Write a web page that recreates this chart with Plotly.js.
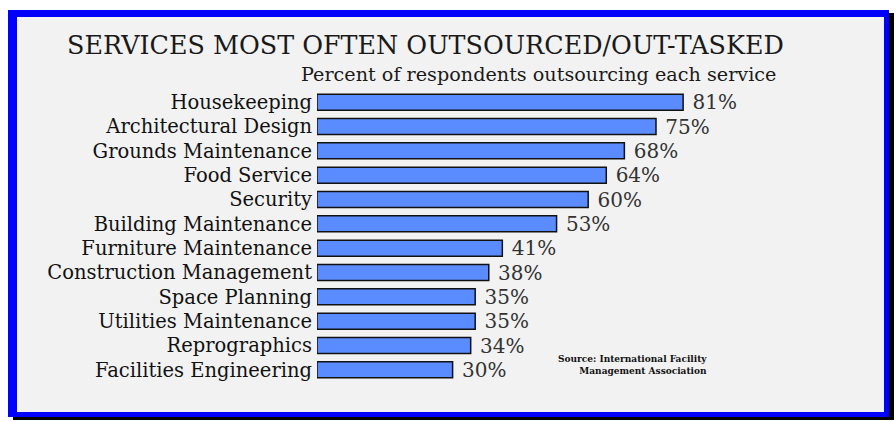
<!DOCTYPE html>
<html>
<head>
<meta charset="utf-8">
<script src="https://cdn.plot.ly/plotly-3.0.1.min.js"></script>
<style>
  html, body { margin: 0; padding: 0; background: #ffffff; width: 896px; height: 421px; overflow: hidden; }
  #frame {
    position: absolute; left: 8px; top: 10px;
    width: 867px; height: 395px;
    background: #f2f2f2;
    border-style: solid; border-color: #0000ff;
    border-width: 7px 5px 5px 9px;
    box-shadow: 5px 3px 0 #000000;
  }
  #chart { position: absolute; left: 0; top: 0; width: 896px; height: 421px; }
</style>
</head>
<body>
<div id="frame"></div>
<div id="chart"></div>
<script>
// ---- data ----
const services = [
  "Housekeeping",
  "Architectural Design",
  "Grounds Maintenance",
  "Food Service",
  "Security",
  "Building Maintenance",
  "Furniture Maintenance",
  "Construction Management",
  "Space Planning",
  "Utilities Maintenance",
  "Reprographics",
  "Facilities Engineering"
];
const percentOutsourcing = [81, 75, 68, 64, 60, 53, 41, 38, 35, 35, 34, 30];
const chartTitle = "SERVICES MOST OFTEN OUTSOURCED/OUT-TASKED";
const chartSubtitle = "Percent of respondents outsourcing each service";
const sourceNote = "Source: International Facility<br>Management Association";

// ---- layout helpers (pixel -> paper) ----
const W = 896, H = 421;
const M = { l: 317, r: 127, t: 90, b: 39 };
const PW = W - M.l - M.r, PH = H - M.t - M.b;
const px = x => (x - M.l) / PW;
const py = y => (H - M.b - y) / PH;

const serif = "DejaVu Serif, Liberation Serif, serif";

const trace = {
  type: "bar",
  orientation: "h",
  y: services,
  x: percentOutsourcing,
  width: 0.66,
  marker: { color: "#5b8cff", line: { color: "#111111", width: 1.5 } },
  texttemplate: " %{x}%",
  textposition: "outside",
  constraintext: "none",
  textfont: { family: serif, size: 20, color: "#333333" },
  cliponaxis: false,
  hoverinfo: "skip"
};

const layout = {
  width: W, height: H,
  margin: M,
  paper_bgcolor: "rgba(0,0,0,0)",
  plot_bgcolor: "rgba(0,0,0,0)",
  showlegend: false,
  xaxis: { range: [0, 100], visible: false, fixedrange: true },
  yaxis: {
    type: "category",
    autorange: "reversed",
    showgrid: false, zeroline: false, showline: false,
    ticks: "",
    ticklabelstandoff: 4,
    tickfont: { family: serif, size: 19.5, color: "#111111" },
    fixedrange: true
  },
  annotations: [
    { text: chartTitle, xref: "paper", yref: "paper", x: px(65), y: py(45),
      xanchor: "left", yanchor: "middle", showarrow: false,
      font: { family: serif, size: 25.4, color: "#1a1a1a" } },
    { text: chartSubtitle, xref: "paper", yref: "paper", x: px(299), y: py(75),
      xanchor: "left", yanchor: "middle", showarrow: false,
      font: { family: serif, size: 19.2, color: "#1a1a1a" } },
    { text: sourceNote, xref: "paper", yref: "paper", x: px(709), y: py(365),
      xanchor: "right", yanchor: "middle", align: "right", showarrow: false,
      font: { family: serif, size: 9, color: "#111111", weight: "bold" } }
  ]
};

Plotly.newPlot("chart", [trace], layout, { staticPlot: true, displayModeBar: false });
</script>
</body>
</html>
